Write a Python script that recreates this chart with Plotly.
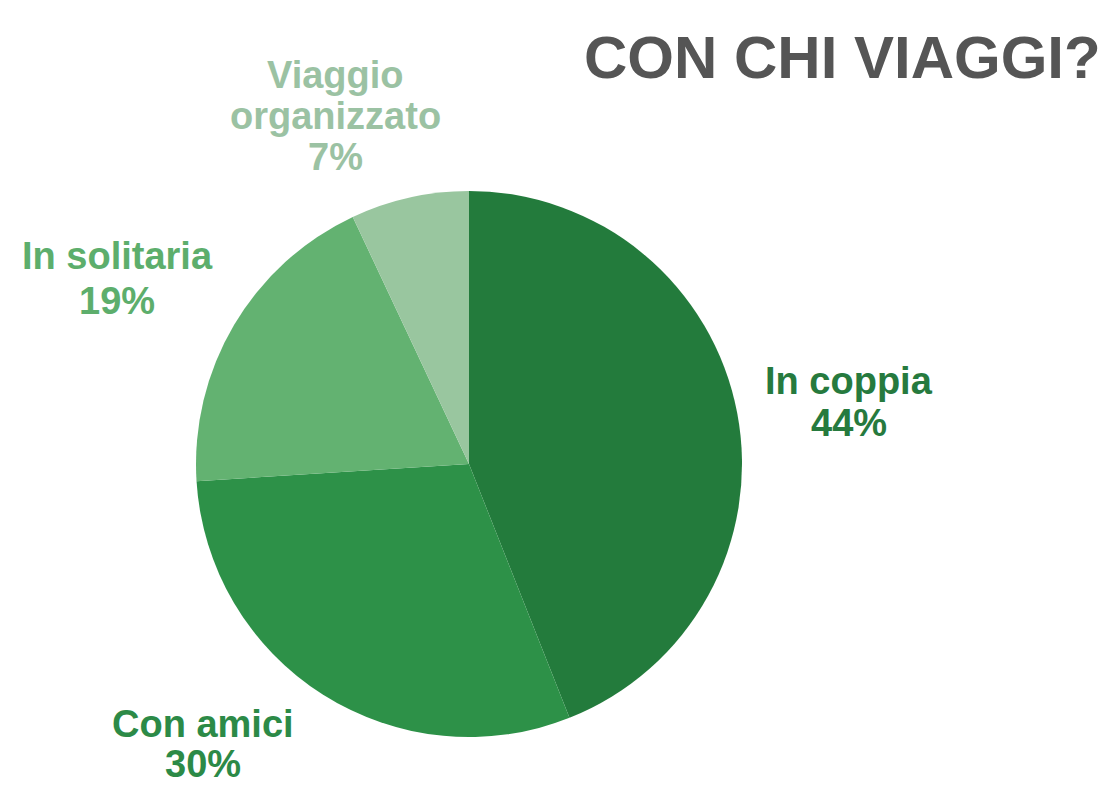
import plotly.graph_objects as go

categories = ["In coppia", "Con amici", "In solitaria", "Viaggio organizzato"]
values = [44, 30, 19, 7]
slice_colors = ["#237b3c", "#2d9148", "#63b271", "#99c69f"]
label_colors = ["#267a3e", "#2c8a47", "#5dae6c", "#9bc2a3"]
label_lines = [["In coppia", "44%"], ["Con amici", "30%"], ["In solitaria", "19%"],
               ["Viaggio", "organizzato", "7%"]]
title_text = "CON CHI VIAGGI?"

W, H = 1111, 791
cx, cy, r = 469, 464, 273

fig = go.Figure(go.Pie(
    labels=categories,
    values=values,
    sort=False,
    direction="clockwise",
    rotation=0,
    marker=dict(colors=slice_colors, line=dict(width=0)),
    textinfo="none",
    hoverinfo="label+percent",
    showlegend=False,
    domain=dict(x=[(cx - r) / W, (cx + r) / W], y=[(H - cy - r) / H, (H - cy + r) / H]),
))

label_x = [849, 203, 117, 335]
label_y = [[381, 423], [724, 764], [256, 301], [75, 116, 157]]
font = "Liberation Sans, Arial, sans-serif"
annotations = []
for lines, col, px, ys in zip(label_lines, label_colors, label_x, label_y):
    for txt, py in zip(lines, ys):
        annotations.append(dict(
            text="<b>" + txt + "</b>", x=px / W, y=1 - py / H,
            xref="paper", yref="paper", xanchor="center", yanchor="middle",
            showarrow=False, font=dict(family=font, size=38, color=col),
        ))
annotations.append(dict(
    text="<b>" + title_text + "</b>", x=842 / W, y=1 - 58 / H,
    xref="paper", yref="paper", xanchor="center", yanchor="middle", showarrow=False,
    font=dict(family=font, size=60, color="#555555"),
))

fig.update_layout(
    width=W, height=H,
    margin=dict(l=0, r=0, t=0, b=0),
    paper_bgcolor="white", plot_bgcolor="white",
    annotations=annotations,
)
fig.write_html(
    "out.html",
    config={"displayModeBar": False},
    post_script="document.body.style.margin='0';document.body.style.overflow='hidden';",
)
